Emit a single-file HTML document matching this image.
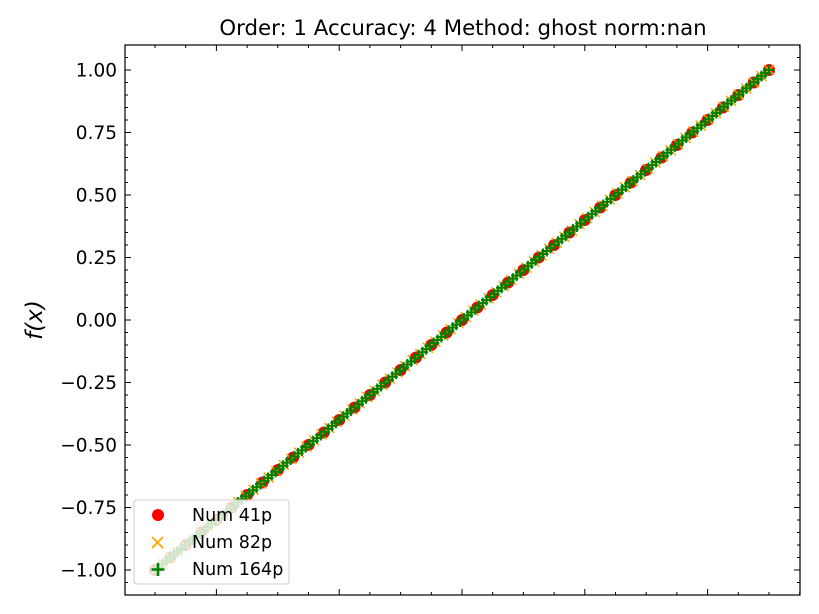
<!DOCTYPE html>
<html><head><meta charset="utf-8"><style>
body{margin:0;background:#fff;}
svg{display:block;font-family:"DejaVu Sans","Liberation Sans",sans-serif;}
</style></head><body>
<svg id="c" width="819" height="614">
<rect x="0" y="0" width="819" height="614" fill="#fff"/>
<text x="463" y="35" font-size="21.3" text-anchor="middle">Order: 1 Accuracy: 4 Method: ghost norm:nan</text>
<text transform="translate(42,320) rotate(-90)" font-size="23" text-anchor="middle" font-style="italic">f(x)</text>
<g id="pts"></g>
<g id="axes"></g>
<g id="legend">
<rect x="134" y="500" width="155" height="84" rx="3" fill="#fff" fill-opacity="0.8" stroke="#ccc"/>
<circle cx="158" cy="515" r="6" fill="red"/>
<text x="192" y="521" font-size="17.5">Num 41p</text>
<path d="M152,537 l11,11 M163,537 l-11,11" stroke="orange" stroke-width="1.8"/>
<text x="192" y="548" font-size="17.5">Num 82p</text>
<path d="M158,563 v13 M151.5,569.5 h13" stroke="green" stroke-width="2.5"/>
<text x="192" y="575" font-size="17.5">Num 164p</text>
</g>
</svg>
<script>
const yTicks=[-1,-0.75,-0.5,-0.25,0,0.25,0.5,0.75,1];
const yTickLabels=["\u22121.00","\u22120.75","\u22120.50","\u22120.25","0.00","0.25","0.50","0.75","1.00"];
const xMajor=[-0.8,-0.4,0,0.4,0.8];
const n41=41, n82=82, n164=164;
const NS="http://www.w3.org/2000/svg";
const L=125,R=800,T=45,B=595;
const sx=x=>155+(x+1)*307;
const sy=y=>320-y*250;
function mk(t,a,p){const e=document.createElementNS(NS,t);for(const k in a)e.setAttribute(k,a[k]);p.appendChild(e);return e;}
const pts=document.getElementById('pts'),ax=document.getElementById('axes');
function f(x){return x;}
for(let i=0;i<n41;i++){const x=-1+2*i/(n41-1);
const c=mk('circle',{cx:sx(x),cy:sy(f(x)),r:6,fill:'red'},pts);

}
for(let i=0;i<n82;i++){const x=-1+2*i/(n82-1),X=sx(x),Y=sy(f(x));
const p=mk('path',{d:`M${X-5},${Y-5}l10,10M${X+5},${Y-5}l-10,10`,stroke:'orange','stroke-width':1.5},pts);

}
for(let i=0;i<n164;i++){const x=-1+2*i/(n164-1),X=sx(x),Y=sy(f(x));
const p=mk('path',{d:`M${X},${Y-5.5}v11M${X-5.5},${Y}h11`,stroke:'green','stroke-width':2},pts);

}
const fr=mk('rect',{x:L,y:T,width:R-L,height:B-T,fill:'none',stroke:'#000','stroke-width':1.2},ax);


yTicks.forEach((v,i)=>{const Y=sy(v);
mk('path',{d:`M${L},${Y}h6M${R},${Y}h-6`,stroke:'#000'},ax);
const t=mk('text',{x:L-8,y:Y+6.5,'font-size':18.5,'text-anchor':'end'},ax);t.textContent=yTickLabels[i];

});
for(let v=-1.05;v<=1.1;v+=0.05){const Y=sy(v);if(Y<T||Y>B)continue;
mk('path',{d:`M${L},${Y}h3M${R},${Y}h-3`,stroke:'#000'},ax);}
for(let k=-11;k<=11;k++){const v=k/10,X=sx(v);if(X<L||X>R)continue;
const major=xMajor.some(m=>Math.abs(m-v)<1e-9);const h=major?6:3;
mk('path',{d:`M${X},${B}v-${h}M${X},${T}v${h}`,stroke:'#000'},ax);}
</script>
</body></html>
